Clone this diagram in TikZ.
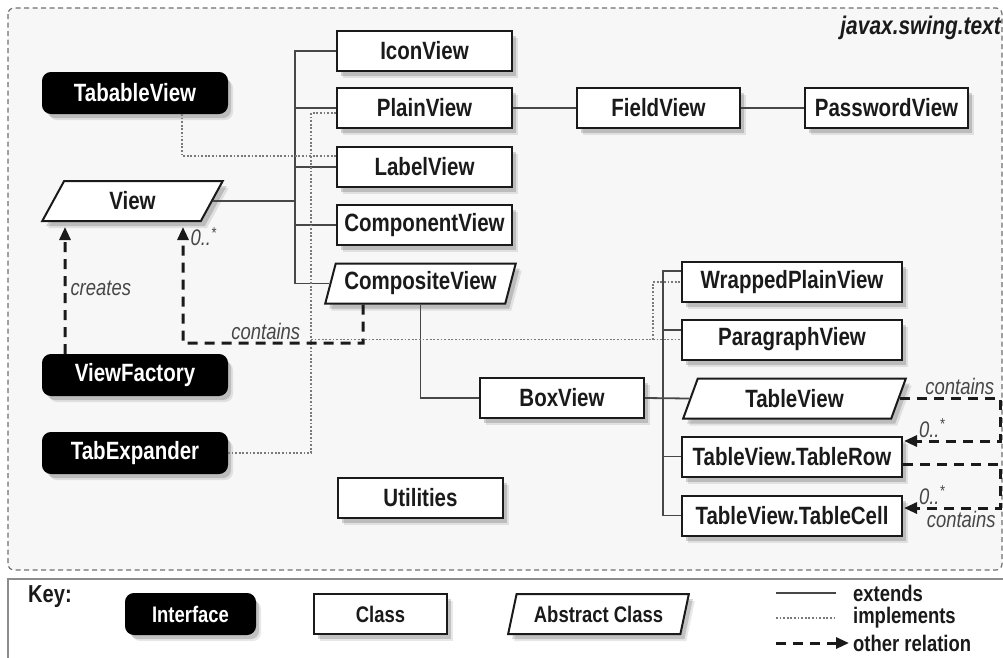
\documentclass[tikz,border=0pt]{standalone}
\usepackage{fontspec}
\setmainfont[FakeStretch=0.82]{Liberation Sans}
\usetikzlibrary{arrows.meta,positioning,calc,shapes.geometric,shadows}
\definecolor{inkDark}{HTML}{1A1A1A}
\definecolor{inkMid}{HTML}{474747}
\definecolor{dotGrey}{HTML}{7A7A7A}
\definecolor{frameGrey}{HTML}{707070}
\definecolor{paneFill}{HTML}{F7F7F7}
\definecolor{keyEdge}{HTML}{8C8C8C}

\begin{document}
\begin{tikzpicture}[
  x=1pt, y=-1pt,
  box/.style={
    draw=inkDark, line width=2pt, fill=white, text=inkDark,
    inner sep=0pt, minimum height=40pt, align=center,
    font=\fontsize{25}{27}\selectfont\bfseries,
    drop shadow={shadow xshift=4pt, shadow yshift=-5pt, fill=black, opacity=.16},
    drop shadow={shadow xshift=6pt, shadow yshift=-7pt, fill=black, opacity=.09}},
  cls/.style={box, rectangle},
  abstract/.style={box, trapezium, trapezium left angle=68,
    trapezium right angle=112, trapezium stretches=true},
  iface/.style={box, rectangle, rounded corners=8pt, fill=black,
    draw=black, text=white, minimum width=184pt},
  keyfont/.style={font=\fontsize{22.5}{24}\selectfont\bfseries},
  ext/.style={line width=1.8pt, draw=inkMid},
  impl/.style={line width=1.8pt, draw=dotGrey, dash pattern=on 1.8pt off 1.8pt},
  rel/.style={-{Triangle[length=13pt,width=11pt]}, line width=3pt,
    draw=inkDark, dash pattern=on 10pt off 7pt},
  lbl/.style={font=\fontsize{22.5}{24}\selectfont\itshape, text=inkMid, inner sep=2pt},
  frame/.style={draw=frameGrey, line width=1.2pt, dash pattern=on 5pt off 3.5pt,
    fill=paneFill, rounded corners=6pt},
]
\useasboundingbox (0,0) rectangle (1003,657);

% =============================== frames ====================================
\draw[frame] (8,8) rectangle (1002,570);
\draw[draw=keyEdge, line width=2pt, fill=white] (8,579) rectangle (1012,672);

\node[anchor=east, font=\fontsize{25.5}{27}\selectfont\bfseries\itshape,
  text=inkDark, inner sep=0pt] at (1001,28) (pkg) {javax.swing.text};

% =============================== nodes =====================================
\node[iface]                          at (135,93)      (tabable)   {TabableView};
\node[abstract, minimum width=181pt]  at (132.5,201)   (view)      {View};
\node[iface]                          at (135,375)     (factory)   {ViewFactory};
\node[iface]                          at (135,453)     (tabexp)    {TabExpander};

\node[cls, minimum width=175pt]       at (424.5,51)    (icon)      {IconView};
\node[cls, minimum width=175pt]       at (424.5,108)   (plain)     {PlainView};
\node[cls, minimum width=175pt]       at (424.5,167)   (labelview) {LabelView};
\node[cls, minimum width=175pt]       at (424.5,225)   (component) {ComponentView};
\node[abstract, minimum width=191pt]  at (420.5,283.5) (composite) {CompositeView};
\node[cls, minimum width=165pt]       at (420.5,498)   (util)      {Utilities};

\node[cls, minimum width=163pt]       at (658.5,108)   (field)     {FieldView};
\node[cls, minimum width=163pt]       at (886.5,108)   (password)  {PasswordView};

\node[cls, minimum width=164pt]       at (562,398)     (boxview)   {BoxView};
\node[cls, minimum width=220pt]       at (792,282)     (wrapped)   {WrappedPlainView};
\node[cls, minimum width=220pt]       at (792,339.5)   (paragraph) {ParagraphView};
\node[abstract, minimum width=223pt]  at (794.5,398.5) (tableview) {TableView};
\node[cls, minimum width=220pt]       at (792,456.5)   (tablerow)  {TableView.TableRow};
\node[cls, minimum width=220pt]       at (792,515.5)   (tablecell) {TableView.TableCell};

% =============================== extends ===================================
\coordinate (vtrunk) at (295,201);
\draw[ext] (view.east) -- (vtrunk);
\draw[ext] (icon.west) -| (vtrunk) |- (composite.west);
\draw[ext] (vtrunk |- plain.west) -- (plain.west);
\draw[ext] (vtrunk |- labelview.west) -- (labelview.west);
\draw[ext] (vtrunk |- component.west) -- (component.west);

\draw[ext] (plain) -- (field);
\draw[ext] (field) -- (password);

\draw[ext] (composite.south) |- (boxview.west);

\coordinate (btrunk) at (663,398);
\draw[ext] (boxview.east) -- (tableview.west);
\draw[ext] ([yshift=11pt]wrapped.west) -| (btrunk) |- (tablecell.west);
\draw[ext] (btrunk |- paragraph.west) ++(0,-9.5) -- ([yshift=9.5pt]paragraph.west);
\draw[ext] (btrunk |- tablerow.west) -- (tablerow.west);

% =============================== implements ================================
\draw[impl] ([xshift=47pt]tabable.south) |- ([yshift=11pt]labelview.west);

\coordinate (itrunk) at (311,339.5);
\coordinate (isplit) at (653,339.5);
\draw[impl] (tabexp.east) -| (itrunk) |- ([yshift=-5pt]plain.west);
\draw[impl] (itrunk) -- (paragraph.west);
\draw[impl] (isplit) |- (wrapped.west);

% =============================== other relations ===========================
% factory creates views
\draw[rel, shorten >=5pt] ([xshift=-70pt]factory.north) --
  node[lbl, right=2pt] {creates} ([xshift=-67.5pt]view.south);

% composite contains views
\coordinate (cbend) at (183,343);
\draw[rel, shorten >=5pt] ([xshift=-57.5pt]composite.south) |-
  node[lbl, pos=0.77, above] {contains} (cbend) --
  node[lbl, pos=0.88, right=4pt] {0..\textsuperscript{*}} ([xshift=50.5pt]view.south);

% table -> rows -> cells
\coordinate (rbot1) at (1000,441);
\coordinate (rbot2) at (1000,508);
\draw[rel, shorten >=1pt] (tableview.east) -|
  node[lbl, pos=0.3, above] {contains} (rbot1) --
  node[lbl, pos=0.7, above] {0..\textsuperscript{*}} ([yshift=15.5pt]tablerow.east);
\draw[rel, shorten >=1pt] ([yshift=-7.5pt]tablerow.east) -| (rbot2) --
  node[lbl, pos=0.7, above] {0..\textsuperscript{*}}
  node[lbl, pos=0.4, below] {contains} ([yshift=7.5pt]tablecell.east);

% =============================== key =======================================
\node[font=\fontsize{24.5}{26}\selectfont\bfseries, text=inkDark] at (50,597) (keytitle) {Key:};
\node[iface, keyfont, minimum width=129pt]    at (190.5,614) (keyiface) {Interface};
\node[cls, keyfont, minimum width=133pt]      at (380.5,614) (keyclass) {Class};
\node[abstract, keyfont, minimum width=181pt] at (598.5,614) (keyabs)   {Abstract Class};

\node[keyfont, text=inkDark, anchor=west, inner sep=0pt] at (853,593) (kext)  {extends};
\node[keyfont, text=inkDark, anchor=west, inner sep=0pt] at (853,618) (kimpl) {implements};
\node[keyfont, text=inkDark, anchor=west, inner sep=0pt] at (853,643) (krel)  {other relation};
\coordinate (kext0)  at (776,593);
\coordinate (kimpl0) at (776,618);
\coordinate (krel0)  at (776,643);
\draw[ext]  (kext0)  -- ([xshift=-17pt]kext.west);
\draw[impl] (kimpl0) -- ([xshift=-17pt]kimpl.west);
\draw[rel]  (krel0)  -- ([xshift=-4pt]krel.west);

\end{tikzpicture}
\end{document}
